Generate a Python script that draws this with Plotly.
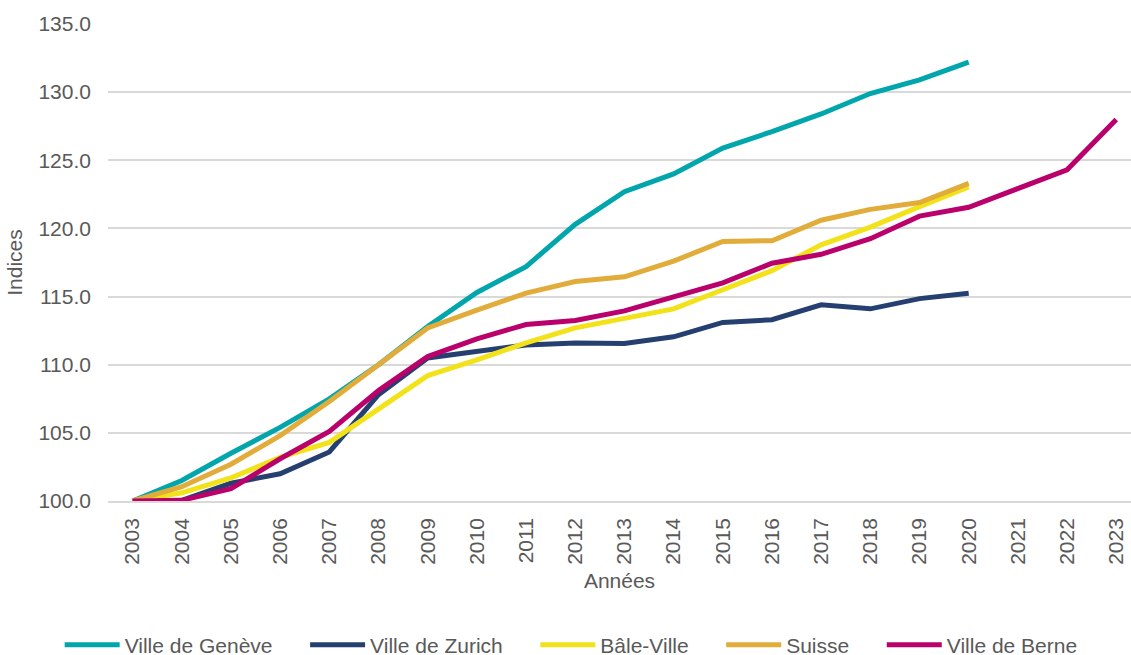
import plotly.graph_objects as go

years = list(range(2003, 2024))
tick_labels = [str(y) for y in years]

geneve = [100.0, 101.5, 103.5, 105.4, 107.5, 110.0, 112.8, 115.3, 117.2, 120.3, 122.7, 124.0, 125.9, 127.1, 128.4, 129.9, 130.9, 132.2]
zurich = [100.0, 100.05, 101.3, 102.0, 103.6, 107.8, 110.5, 111.0, 111.45, 111.6, 111.55, 112.05, 113.1, 113.3, 114.4, 114.1, 114.85, 115.25]
bale = [100.0, 100.6, 101.7, 103.2, 104.3, 106.7, 109.2, 110.35, 111.6, 112.7, 113.4, 114.1, 115.5, 116.9, 118.8, 120.1, 121.6, 123.05]
suisse = [100.0, 101.05, 102.7, 104.8, 107.3, 110.0, 112.7, 114.0, 115.25, 116.1, 116.45, 117.6, 119.05, 119.1, 120.6, 121.4, 121.9, 123.3]
berne = [100.0, 100.05, 100.9, 103.1, 105.1, 108.1, 110.6, 111.9, 112.95, 113.25, 113.95, 115.0, 116.0, 117.45, 118.1, 119.25, 120.9, 121.55, 122.9, 124.3, 128.0]

series_names = ["Ville de Genève", "Ville de Zurich", "Bâle-Ville", "Suisse", "Ville de Berne"]
series_values = [geneve, zurich, bale, suisse, berne]
series_colors = ["#00A6AB", "#253F70", "#F2E21A", "#E2AC3A", "#BA006A"]

fig = go.Figure()
n = len(series_names)
for i, (name, vals, color) in enumerate(zip(series_names, series_values, series_colors)):
    pad = "\u00a0\u00a0\u00a0\u00a0\u2009" if i < n - 1 else ""
    fig.add_trace(go.Scatter(
        x=years[:len(vals)], y=vals, name=name + pad, mode="lines",
        line=dict(color=color, width=5),
    ))

font_family = "Liberation Sans, Arial, sans-serif"
txt = "#595959"

fig.update_layout(
    width=1131, height=655, autosize=False,
    margin=dict(l=108, r=0, t=24, b=154),
    paper_bgcolor="white", plot_bgcolor="white",
    font=dict(family=font_family, size=21, color=txt),
    showlegend=True,
    legend=dict(
        orientation="h", xref="container", yref="container",
        x=0.505, xanchor="center", y=0.015, yanchor="middle",
        font=dict(size=21, color=txt), itemwidth=55,
        tracegroupgap=0,
    ),
    xaxis=dict(
        range=[2002.5, 2023.3], tickmode="array", tickvals=years, ticktext=tick_labels,
        tickangle=-90, showgrid=False, zeroline=False, ticks="",
        showline=True, linecolor="#D9D9D9", linewidth=1.5,
        ticklabelstandoff=7, automargin=False,
        title=dict(text="Années", font=dict(size=21, color=txt), standoff=9),
    ),
    yaxis=dict(
        range=[100, 135], dtick=5, tickformat=".1f", showgrid=True,
        gridcolor="#D9D9D9", gridwidth=1.5, zeroline=False, ticks="",
        showline=False, ticklabelstandoff=16, automargin=False,
        title=dict(text="Indices", font=dict(size=21, color=txt), standoff=10),
    ),
)

fig.write_html(
    "out.html",
    config={"displayModeBar": False},
    post_script="document.body.style.margin='0';document.body.style.overflow='hidden';",
)
